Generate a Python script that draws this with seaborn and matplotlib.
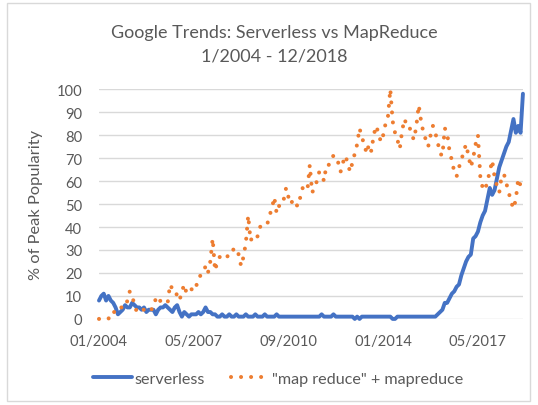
import numpy as np
import pandas as pd
import matplotlib
matplotlib.use("Agg")
import matplotlib.pyplot as plt
import seaborn as sns
from matplotlib.patches import Rectangle

# Google Trends, monthly, 01/2004 - 12/2018 (180 months)
tick_pos = [0, 40, 80, 120, 160]
tick_labels = ["01/2004", "05/2007", "09/2010", "01/2014", "05/2017"]

serverless = [
    8, 10, 11, 8, 10, 8, 7, 5, 2, 3, 4, 6,            # 2004
    5, 5, 7, 6, 5, 5, 4, 5, 3, 4, 4, 4,               # 2005
    2, 4, 5, 5, 6, 5, 4, 3, 5, 6, 3, 1,               # 2006
    3, 2, 1, 2, 2, 2, 3, 2, 3, 5, 3, 3,               # 2007
    2, 2, 1, 1, 2, 1, 1, 2, 1, 1, 2, 1,               # 2008
    1, 1, 2, 1, 1, 1, 2, 1, 1, 1, 2, 1,               # 2009
    1, 1, 1, 2, 1, 1, 1, 1, 1, 1, 1, 1,               # 2010
    1, 1, 1, 1, 1, 1, 1, 1, 1, 1, 2, 1,               # 2011
    1, 1, 1, 2, 1, 1, 1, 1, 1, 1, 1, 1,               # 2012
    0, 1, 0, 1, 1, 1, 1, 1, 1, 1, 1, 1,               # 2013
    1, 1, 1, 1, 0, 0, 1, 1, 1, 1, 1, 1,               # 2014
    1, 1, 1, 1, 1, 1, 1, 1, 1, 1, 1, 2,               # 2015
    3, 4, 7, 7, 9, 11, 12, 14, 15, 19, 22, 25,        # 2016
    27, 28, 35, 36, 38, 42, 45, 47, 52, 57, 54, 56,   # 2017
    61, 66, 69, 72, 75, 77, 82, 87, 81, 84, 81, 98,   # 2018
]

mapreduce = [
    0, 0, 0, 0, 0, 3, 3, 3, 3, 5, 5, 5,               # 2004
    8, 12, 10, 6, 3, 3, 4, 4, 5, 5, 4, 5,             # 2005
    9, 7, 8, 8, 8, 7, 15, 13, 13, 10, 8, 12,          # 2006
    15, 11, 12, 13, 12, 14, 18, 19, 20, 23, 20, 25,   # 2007
    35, 21, 25, 27, 28, 27, 27, 28, 28, 31, 30, 28,   # 2008
    23, 27, 33, 45, 34, 36, 35, 36, 40, 41, 41, 41,   # 2009
    45, 48, 53, 46, 49, 52, 52, 57, 53, 50, 52, 50,   # 2010
    49, 53, 57, 56, 56, 67, 55, 57, 60, 64, 63, 60,   # 2011
    67, 67, 70, 71, 71, 68, 64, 68, 71, 68, 64, 68,   # 2012
    72, 76, 83, 79, 76, 72, 76, 73, 80, 84, 81, 77,   # 2013
    80, 85, 88, 100, 86, 81, 78, 74, 82, 87, 84, 84,  # 2014
    80, 78, 84, 93, 86, 81, 78, 75, 80, 84, 81, 77,   # 2015
    72, 71, 83, 81, 73, 69, 64, 62, 66, 69, 73, 76,   # 2016
    71, 66, 70, 76, 80, 62, 57, 56, 60, 64, 69, 62,   # 2017
    58, 55, 62, 63, 59, 55, 51, 48, 52, 61, 58, 55,   # 2018
]

months = np.arange(len(serverless))
df = pd.DataFrame({"month": months, "serverless": serverless, "mapreduce": mapreduce})

sns.set_theme(style="white")
plt.rcParams["font.family"] = ["Lato", "DejaVu Sans"]
text_color = "#595959"

fig = plt.figure(figsize=(5.38, 4.06), dpi=100)
ax = fig.add_axes([0.184, 0.212, 0.788, 0.566])

sns.lineplot(data=df, x="month", y="serverless", ax=ax, color="#4472C4",
             linewidth=2.8, label="serverless", clip_on=False)
sns.lineplot(data=df, x="month", y="mapreduce", ax=ax, color="#ED7D31",
             linewidth=2.9, linestyle=(0, (0.01, 2.48)), dash_capstyle="round",
             label='"map reduce" + mapreduce', clip_on=False)

ax.set_xlim(0, len(months) - 1)
ax.set_ylim(0, 100)
ax.set_yticks(range(0, 101, 10))
ax.set_xticks(tick_pos)
ax.set_xticklabels(tick_labels)
ax.grid(axis="y", color="#d9d9d9", linewidth=1)
ax.set_axisbelow(True)
for s in ax.spines.values():
    s.set_visible(False)
ax.tick_params(axis="both", length=0, labelsize=10.6, labelcolor=text_color)
ax.tick_params(axis="y", pad=12)
ax.tick_params(axis="x", pad=11)
ax.set_xlabel("")
ax.set_ylabel("% of Peak Popularity", fontsize=11.8, color=text_color)
ax.yaxis.set_label_coords(-0.132, 0.5)

fig.text(0.509, 0.919, "Google Trends: Serverless vs MapReduce", ha="center", va="center",
         fontsize=13, color=text_color)
fig.text(0.509, 0.860, "1/2004 - 12/2018", ha="center", va="center",
         fontsize=13, color=text_color)

handles, labels = ax.get_legend_handles_labels()
ax.legend(handles, labels, loc="center", bbox_to_anchor=(0.517, 0.0655),
          bbox_transform=fig.transFigure, ncol=2, frameon=False, fontsize=11.6,
          labelcolor=text_color, handlelength=2.45, handletextpad=0.12, columnspacing=1.65)

fig.patches.append(Rectangle((7 / 538, 4 / 406), 523 / 538, 398 / 406, transform=fig.transFigure,
                             fill=False, edgecolor="#d9d9d9", linewidth=1))

fig.savefig("out.png", dpi=100)
